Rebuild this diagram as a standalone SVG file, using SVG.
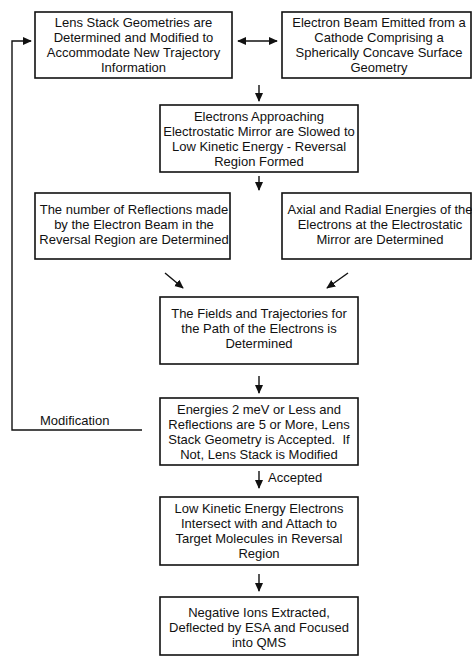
<svg xmlns="http://www.w3.org/2000/svg" width="472" height="658" viewBox="0 0 472 658">
<defs>
<style>
.box{fill:#fff;stroke:#111;stroke-width:1.6}
.t{font-family:"Liberation Sans",Arial,sans-serif;font-size:13px;fill:#111;text-anchor:middle}
.l{font-family:"Liberation Sans",Arial,sans-serif;font-size:13px;fill:#111}
.c{fill:none;stroke:#111;stroke-width:1.4}
</style>
<marker id="ah" viewBox="0 0 10 10" refX="9" refY="5" markerWidth="9" markerHeight="9" markerUnits="userSpaceOnUse" orient="auto-start-reverse">
<path d="M0,0.5 L10,5 L0,9.5 z" fill="#111"/>
</marker>
</defs>
<rect width="472" height="658" fill="#fff"/>
<g id="connectors">
<path class="c" d="M142,430 H12 V41 H31" marker-end="url(#ah)"/>
<line class="c" x1="238" y1="41" x2="277" y2="41" marker-start="url(#ah)" marker-end="url(#ah)"/>
<line class="c" x1="259" y1="85" x2="259" y2="101" marker-end="url(#ah)"/>
<line class="c" x1="259" y1="176" x2="259" y2="190" marker-end="url(#ah)"/>
<line class="c" x1="165" y1="273" x2="183" y2="288" marker-end="url(#ah)"/>
<line class="c" x1="348" y1="273" x2="327" y2="288" marker-end="url(#ah)"/>
<line class="c" x1="259" y1="376" x2="259" y2="393" marker-end="url(#ah)"/>
<line class="c" x1="259" y1="471" x2="259" y2="488" marker-end="url(#ah)"/>
<line class="c" x1="259" y1="574" x2="259" y2="591" marker-end="url(#ah)"/>
<text class="l" x="40" y="425">Modification</text>
<text class="l" x="268" y="482">Accepted</text>
</g>
<g id="n1">
<rect class="box" x="35" y="12" width="197" height="66"/>
<text class="t" x="133.5" y="27">Lens Stack Geometries are</text>
<text class="t" x="133.5" y="42">Determined and Modified to</text>
<text class="t" x="133.5" y="57">Accommodate New Trajectory</text>
<text class="t" x="133.5" y="72">Information</text>
</g>
<g id="n2">
<rect class="box" x="282" y="12" width="189" height="66"/>
<text class="t" x="379" y="27">Electron Beam Emitted from a</text>
<text class="t" x="379" y="42">Cathode Comprising a</text>
<text class="t" x="379" y="57">Spherically Concave Surface</text>
<text class="t" x="379" y="72">Geometry</text>
</g>
<g id="n3">
<rect class="box" x="160" y="105" width="198" height="67"/>
<text class="t" x="259" y="120.5">Electrons Approaching</text>
<text class="t" x="259" y="135.5">Electrostatic Mirror are Slowed to</text>
<text class="t" x="259" y="150.5">Low Kinetic Energy - Reversal</text>
<text class="t" x="259" y="165.5">Region Formed</text>
</g>
<g id="n4">
<rect class="box" x="35" y="193" width="195" height="66"/>
<text class="t" x="134" y="213.5">The number of Reflections made</text>
<text class="t" x="134" y="228.5">by the Electron Beam in the</text>
<text class="t" x="134" y="243.5">Reversal Region are Determined</text>
</g>
<g id="n5">
<rect class="box" x="282" y="193" width="189" height="66"/>
<text class="t" x="380" y="213.5">Axial and Radial Energies of the</text>
<text class="t" x="380" y="228.5">Electrons at the Electrostatic</text>
<text class="t" x="380" y="243.5">Mirror are Determined</text>
</g>
<g id="n6">
<rect class="box" x="160" y="297" width="198" height="67"/>
<text class="t" x="259" y="318">The Fields and Trajectories for</text>
<text class="t" x="259" y="333">the Path of the Electrons is</text>
<text class="t" x="259" y="348">Determined</text>
</g>
<g id="n7">
<rect class="box" x="160" y="398" width="198" height="67"/>
<text class="t" x="259" y="413.5">Energies 2 meV or Less and</text>
<text class="t" x="259" y="428.5">Reflections are 5 or More, Lens</text>
<text class="t" x="259" y="443.5" xml:space="preserve">Stack Geometry is Accepted.  If</text>
<text class="t" x="259" y="458.5">Not, Lens Stack is Modified</text>
</g>
<g id="n8">
<rect class="box" x="160" y="497" width="198" height="68"/>
<text class="t" x="259" y="513">Low Kinetic Energy Electrons</text>
<text class="t" x="259" y="528">Intersect with and Attach to</text>
<text class="t" x="259" y="543">Target Molecules in Reversal</text>
<text class="t" x="259" y="558">Region</text>
</g>
<g id="n9">
<rect class="box" x="160" y="597" width="198" height="58"/>
<text class="t" x="259" y="616.5">Negative Ions Extracted,</text>
<text class="t" x="259" y="631.5">Deflected by ESA and Focused</text>
<text class="t" x="259" y="646.5">into QMS</text>
</g>
</svg>
